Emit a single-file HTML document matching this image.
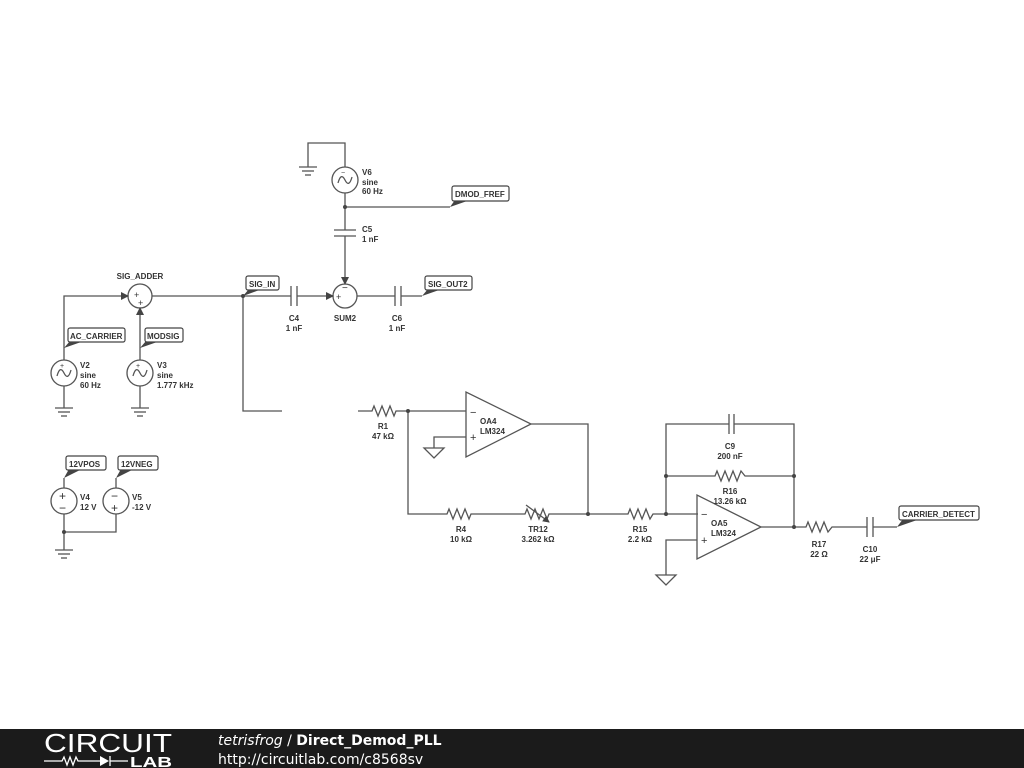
<!DOCTYPE html>
<html><head><meta charset="utf-8"><style>
html,body{margin:0;padding:0;background:#fff;width:1024px;height:768px;overflow:hidden}
svg{display:block}
text{font-family:"Liberation Sans",sans-serif;font-weight:bold;font-size:8px;fill:#333}
.w{stroke:#555;stroke-width:1.3;fill:none}
.lb{fill:#fff;stroke:#444;stroke-width:1.2}
</style></head><body>
<svg width="1024" height="768" viewBox="0 0 1024 768">
<defs>
<marker id="ar" markerWidth="8" markerHeight="8" refX="7" refY="4" orient="auto" markerUnits="userSpaceOnUse"><path d="M0,0L8,4L0,8z" fill="#444"/></marker>
<marker id="ar2" markerWidth="7" markerHeight="7" refX="6" refY="3.5" orient="auto" markerUnits="userSpaceOnUse"><path d="M0,0L7,3.5L0,7z" fill="#444"/></marker>
</defs>
<g class="w">
<polyline points="345,167 345,143 308,143 308,167"/>
<line x1="299" y1="167" x2="317" y2="167"/><line x1="302" y1="171" x2="314" y2="171"/><line x1="305" y1="175" x2="311" y2="175"/>
<circle cx="345" cy="180" r="13"/>
<path d="M338,183 Q341,172 345,180 Q349,188 352,177"/>
<line x1="345" y1="193" x2="345" y2="230"/>
<line x1="334" y1="230" x2="356" y2="230"/><line x1="334" y1="236" x2="356" y2="236"/>
<line x1="345" y1="236" x2="345" y2="284" marker-end="url(#ar)"/>
<line x1="345" y1="207" x2="450" y2="207"/>
<circle cx="345" cy="296" r="12"/>
<circle cx="140" cy="296" r="12"/>
<polyline points="64,360 64,296 128,296" marker-end="url(#ar)"/>
<line x1="140" y1="360" x2="140" y2="308" marker-end="url(#ar)"/>
<line x1="152" y1="296" x2="291" y2="296"/>
<line x1="291" y1="286" x2="291" y2="306"/><line x1="297" y1="286" x2="297" y2="306"/>
<line x1="297" y1="296" x2="333" y2="296" marker-end="url(#ar)"/>
<polyline points="243,296 243,411 282,411"/>
<line x1="357" y1="296" x2="395" y2="296"/>
<line x1="395" y1="286" x2="395" y2="306"/><line x1="401" y1="286" x2="401" y2="306"/>
<line x1="401" y1="296" x2="422" y2="296"/>
<circle cx="64" cy="373" r="13"/>
<path d="M57,376 Q60,365 64,373 Q68,381 71,370"/>
<circle cx="140" cy="373" r="13"/>
<path d="M133,376 Q136,365 140,373 Q144,381 147,370"/>
<line x1="64" y1="386" x2="64" y2="408"/>
<line x1="55" y1="408" x2="73" y2="408"/><line x1="58" y1="412" x2="70" y2="412"/><line x1="61" y1="416" x2="67" y2="416"/>
<line x1="140" y1="386" x2="140" y2="408"/>
<line x1="131" y1="408" x2="149" y2="408"/><line x1="134" y1="412" x2="146" y2="412"/><line x1="137" y1="416" x2="143" y2="416"/>
<circle cx="64" cy="501" r="13"/><circle cx="116" cy="501" r="13"/>
<line x1="64" y1="478" x2="64" y2="488"/><line x1="116" y1="478" x2="116" y2="488"/>
<polyline points="64,514 64,550"/><polyline points="116,514 116,532 64,532"/>
<line x1="55" y1="550" x2="73" y2="550"/><line x1="58" y1="554" x2="70" y2="554"/><line x1="61" y1="558" x2="67" y2="558"/>
<polyline points="358,411 372,411 374,406 378,416 382,406 386,416 390,406 394,416 396,411 466,411"/>
<polygon points="466,392 466,457 531,424"/>
<polyline points="466,437 434,437 434,448"/>
<polygon points="424,448 444,448 434,458"/>
<polyline points="531,424 588,424 588,514"/>
<polyline points="408,411 408,514 447,514 449,509 453,519 457,509 461,519 465,509 469,519 471,514 525,514 527,509 531,519 535,509 539,519 543,509 547,519 549,514 628,514 630,509 634,519 638,509 642,519 646,509 650,519 653,514 698,514"/>
<line x1="526" y1="505" x2="549" y2="522" marker-end="url(#ar2)"/>
<polygon points="697,495 697,559 761,527"/>
<polyline points="697,540 666,540 666,575"/>
<polygon points="656,575 676,575 666,585"/>
<polyline points="666,514 666,424 729,424"/><polyline points="734,424 794,424 794,527"/>
<line x1="729" y1="414" x2="729" y2="434"/><line x1="734" y1="414" x2="734" y2="434"/>
<polyline points="666,476 715,476 717,471 721,481 725,471 729,481 733,471 737,481 741,471 745,476 794,476"/>
<polyline points="761,527 806,527 808,522 812,532 816,522 820,532 824,522 828,532 832,527 867,527"/>
<line x1="867" y1="517" x2="867" y2="537"/><line x1="873" y1="517" x2="873" y2="537"/>
<line x1="873" y1="527" x2="897" y2="527"/>
</g>
<g fill="#444">
<circle cx="345" cy="207" r="2"/><circle cx="243" cy="296" r="2"/><circle cx="64" cy="532" r="2"/>
<circle cx="408" cy="411" r="2"/><circle cx="588" cy="514" r="2"/><circle cx="666" cy="514" r="2"/>
<circle cx="666" cy="476" r="2"/><circle cx="794" cy="476" r="2"/><circle cx="794" cy="527" r="2"/>
<polygon points="450,207 455,200 470,200"/>
<polygon points="243,296 249,289 262,289"/>
<polygon points="422,296 428,289 442,289"/>
<polygon points="64,348 70,341 84,341"/>
<polygon points="140,348 146,341 160,341"/>
<polygon points="64,478 69,469 82,469"/>
<polygon points="116,478 121,469 134,469"/>
<polygon points="897,527 903,519 920,519"/>
</g>
<g>
<rect class="lb" x="452" y="186" width="57" height="15" rx="2"/><text x="455" y="197">DMOD_FREF</text>
<rect class="lb" x="246" y="276" width="33" height="14" rx="2"/><text x="249" y="287">SIG_IN</text>
<rect class="lb" x="425" y="276" width="47" height="14" rx="2"/><text x="428" y="287">SIG_OUT2</text>
<rect class="lb" x="68" y="328" width="57" height="14" rx="2"/><text x="70" y="339">AC_CARRIER</text>
<rect class="lb" x="145" y="328" width="38" height="14" rx="2"/><text x="147" y="339">MODSIG</text>
<rect class="lb" x="66" y="456" width="40" height="14" rx="2"/><text x="69" y="467">12VPOS</text>
<rect class="lb" x="118" y="456" width="40" height="14" rx="2"/><text x="121" y="467">12VNEG</text>
<rect class="lb" x="899" y="506" width="80" height="14" rx="2"/><text x="902" y="517">CARRIER_DETECT</text>
</g>
<g>
<text x="362" y="175">V6</text><text x="362" y="185">sine</text><text x="362" y="194">60 Hz</text>
<text x="362" y="232">C5</text><text x="362" y="242">1 nF</text>
<text x="140" y="279" text-anchor="middle">SIG_ADDER</text>
<text x="345" y="321" text-anchor="middle">SUM2</text>
<text x="294" y="321" text-anchor="middle">C4</text><text x="294" y="331" text-anchor="middle">1 nF</text>
<text x="397" y="321" text-anchor="middle">C6</text><text x="397" y="331" text-anchor="middle">1 nF</text>
<text x="80" y="368">V2</text><text x="80" y="378">sine</text><text x="80" y="388">60 Hz</text>
<text x="157" y="368">V3</text><text x="157" y="378">sine</text><text x="157" y="388">1.777 kHz</text>
<text x="80" y="500">V4</text><text x="80" y="510">12 V</text>
<text x="132" y="500">V5</text><text x="132" y="510">-12 V</text>
<text x="383" y="429" text-anchor="middle">R1</text><text x="383" y="439" text-anchor="middle">47 kΩ</text>
<text x="480" y="424">OA4</text><text x="480" y="434">LM324</text>
<text x="461" y="532" text-anchor="middle">R4</text><text x="461" y="542" text-anchor="middle">10 kΩ</text>
<text x="538" y="532" text-anchor="middle">TR12</text><text x="538" y="542" text-anchor="middle">3.262 kΩ</text>
<text x="640" y="532" text-anchor="middle">R15</text><text x="640" y="542" text-anchor="middle">2.2 kΩ</text>
<text x="730" y="449" text-anchor="middle">C9</text><text x="730" y="459" text-anchor="middle">200 nF</text>
<text x="730" y="494" text-anchor="middle">R16</text><text x="730" y="504" text-anchor="middle">13.26 kΩ</text>
<text x="711" y="526">OA5</text><text x="711" y="536">LM324</text>
<text x="819" y="547" text-anchor="middle">R17</text><text x="819" y="557" text-anchor="middle">22 Ω</text>
<text x="870" y="552" text-anchor="middle">C10</text><text x="870" y="562" text-anchor="middle">22 μF</text>
</g>
<g>
<text x="134" y="298" style="font-weight:normal;font-size:9px">+</text><text x="138" y="306" style="font-weight:normal;font-size:9px">+</text>
<text x="336" y="300" style="font-weight:normal;font-size:9px">+</text><text x="342" y="291" style="font-weight:normal;font-size:10px">−</text>
<text x="60" y="368" style="font-weight:normal;font-size:7px">+</text><text x="136" y="368" style="font-weight:normal;font-size:7px">+</text>
<text x="341" y="175" style="font-weight:normal;font-size:7px">−</text>
<text x="59" y="500" style="font-weight:normal;font-size:12px">+</text><text x="59" y="512" style="font-weight:normal;font-size:12px">−</text>
<text x="111" y="500" style="font-weight:normal;font-size:12px">−</text><text x="111" y="512" style="font-weight:normal;font-size:12px">+</text>
<text x="470" y="416" style="font-weight:normal;font-size:11px">−</text><text x="470" y="441" style="font-weight:normal;font-size:11px">+</text>
<text x="701" y="518" style="font-weight:normal;font-size:11px">−</text><text x="701" y="544" style="font-weight:normal;font-size:11px">+</text>
</g>
<rect x="0" y="729" width="1024" height="39" fill="#1b1b1b"/>
<text x="44" y="752" textLength="128" lengthAdjust="spacingAndGlyphs" style="font-weight:normal;font-size:26px;fill:#fff">CIRCUIT</text>
<g stroke="#fff" stroke-width="1.3" fill="none"><polyline points="44,761 62,761 64,757 67,765 70,757 73,765 76,757 78,761 100,761"/><line x1="110" y1="756" x2="110" y2="766"/><line x1="110" y1="761" x2="128" y2="761"/></g>
<polygon points="100,756 100,766 109,761" fill="#fff"/>
<text x="130" y="767" textLength="42" lengthAdjust="spacingAndGlyphs" style="font-weight:bold;font-size:15px;fill:#fff">LAB</text>
<text x="218" y="745" style="font-family:'DejaVu Sans',sans-serif;font-size:14px;fill:#fff;font-weight:normal"><tspan font-style="italic">tetrisfrog</tspan> / <tspan font-weight="bold">Direct_Demod_PLL</tspan></text>
<text x="218" y="764" style="font-family:'DejaVu Sans',sans-serif;font-size:14px;fill:#fff;font-weight:normal">http://circuitlab.com/c8568sv</text>
</svg>
</body></html>
